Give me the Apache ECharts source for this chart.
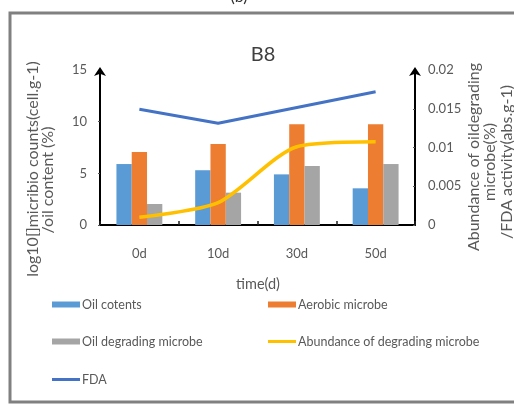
<!DOCTYPE html>
<html>
<head>
<meta charset="utf-8">
<script src="https://cdn.jsdelivr.net/npm/echarts@6/dist/echarts.min.js"></script>
<style>
html,body{margin:0;padding:0;background:#fff;}
#chart{width:514px;height:404px;}
</style>
</head>
<body>
<div id="chart"></div>
<script>
var categories = ['0d', '10d', '30d', '50d'];
var oilContents = [5.9, 5.3, 4.9, 3.55];
var aerobicMicrobe = [7.07, 7.84, 9.75, 9.75];
var oilDegradingMicrobe = [2.03, 3.13, 5.71, 5.9];
var abundanceDegrading = [0.00099, 0.00288, 0.0101, 0.01075];
var fdaActivity = [0.01493, 0.01312, 0.01515, 0.0172];
var leftTicks = [0, 5, 10, 15];
var rightTicks = [0, 0.005, 0.01, 0.015, 0.02];

var FONT = 'Lato, "Open Sans", sans-serif';
var TXT = '#595959';

var chart = echarts.init(document.getElementById('chart'), null, {renderer: 'canvas'});

function legendAt(name, left, top, h) {
  return {
    data: [{name: name, icon: 'rect'}], left: left, top: top, orient: 'horizontal', padding: 0,
    itemWidth: 28, itemHeight: h, itemGap: 3,
    textStyle: {fontFamily: FONT, fontSize: 12.5, color: TXT, padding: [0, 0, 0, -3]},
    selectedMode: false
  };
}

var option = {
  backgroundColor: '#ffffff',
  animation: false,
  textStyle: {fontFamily: FONT},
  grid: {left: 100, right: 99, top: 70, bottom: 179, containLabel: false},
  legend: [
    legendAt('Oil cotents', 52, 298, 6),
    legendAt('Aerobic microbe', 268, 298, 6),
    legendAt('Oil degrading microbe', 52, 335, 6),
    legendAt('Abundance of degrading microbe', 268, 335, 3),
    legendAt('FDA', 52, 373, 3)
  ],
  xAxis: {
    type: 'category',
    data: categories,
    axisLine: {show: true, lineStyle: {color: '#000', width: 2}},
    axisTick: {show: true, inside: true, length: 4, lineStyle: {color: '#222', width: 1.5}},
    axisLabel: {color: TXT, fontSize: 13, fontFamily: FONT, margin: 22},
    splitLine: {show: false}
  },
  yAxis: [
    {
      type: 'value', min: 0, max: 15, interval: 5, position: 'left',
      axisLine: {show: true, symbol: ['none', 'arrow'], symbolSize: [9, 9], symbolOffset: [0, 3],
        lineStyle: {color: '#000', width: 2}},
      axisTick: {show: true, length: 2, lineStyle: {color: '#555'}},
      axisLabel: {color: TXT, fontSize: 13, fontFamily: FONT, margin: 13,
        formatter: function (v) { return leftTicks.indexOf(v) >= 0 ? String(v) : ''; }},
      splitLine: {show: false}
    },
    {
      type: 'value', min: 0, max: 0.02, interval: 0.005, position: 'right',
      axisLine: {show: true, symbol: ['none', 'arrow'], symbolSize: [9, 9], symbolOffset: [0, 3],
        lineStyle: {color: '#000', width: 2}},
      axisTick: {show: true, inside: true, length: 2, lineStyle: {color: '#555'}},
      axisLabel: {color: TXT, fontSize: 13, fontFamily: FONT, margin: 13,
        formatter: function (v) {
          for (var i = 0; i < rightTicks.length; i++) {
            if (Math.abs(rightTicks[i] - v) < 1e-9) return String(rightTicks[i]);
          }
          return '';
        }},
      splitLine: {show: false}
    }
  ],
  series: [
    {name: 'Oil cotents', type: 'bar', yAxisIndex: 0, data: oilContents,
      barWidth: 15.3, barGap: '0%', itemStyle: {color: '#5B9BD5'}},
    {name: 'Aerobic microbe', type: 'bar', yAxisIndex: 0, data: aerobicMicrobe,
      barWidth: 15.3, barGap: '0%', itemStyle: {color: '#ED7D31'}},
    {name: 'Oil degrading microbe', type: 'bar', yAxisIndex: 0, data: oilDegradingMicrobe,
      barWidth: 15.3, barGap: '0%', itemStyle: {color: '#A5A5A5'}},
    {name: 'Abundance of degrading microbe', type: 'line', yAxisIndex: 1, data: abundanceDegrading,
      smooth: 0.25, symbol: 'none', showSymbol: false,
      itemStyle: {color: '#FFC000'}, lineStyle: {color: '#FFC000', width: 3.5}, z: 3},
    {name: 'FDA', type: 'line', yAxisIndex: 1, data: fdaActivity,
      symbol: 'none', showSymbol: false,
      itemStyle: {color: '#4472C4'}, lineStyle: {color: '#4472C4', width: 3}, z: 3}
  ],
  graphic: [
    {type: 'rect', shape: {x: 10, y: 13, width: 600, height: 389},
      style: {fill: 'none', stroke: '#808080', lineWidth: 3}, silent: true, z: 0},
    {type: 'text', x: 239, y: 5, silent: true,
      style: {text: '(b)', fontSize: 16, fontFamily: FONT, fill: '#333', textAlign: 'center', textVerticalAlign: 'bottom'}},
    {type: 'text', x: 263, y: 55, silent: true,
      style: {text: 'B8', fontSize: 20, fontFamily: FONT, fill: '#404040', textAlign: 'center', textVerticalAlign: 'middle'}},
    {type: 'text', x: 258, y: 284, silent: true,
      style: {text: 'time(d)', fontSize: 14.5, fontFamily: FONT, fill: TXT, textAlign: 'center', textVerticalAlign: 'middle'}},
    {type: 'text', x: 33, y: 169, rotation: Math.PI / 2, silent: true,
      style: {text: 'log10[]micribio counts(cell.g-1)', fontSize: 16, fontFamily: FONT, fill: TXT, textAlign: 'center', textVerticalAlign: 'middle'}},
    {type: 'text', x: 48, y: 180, rotation: Math.PI / 2, silent: true,
      style: {text: '/oil content (%)', fontSize: 16, fontFamily: FONT, fill: TXT, textAlign: 'center', textVerticalAlign: 'middle'}},
    {type: 'text', x: 474, y: 157, rotation: Math.PI / 2, silent: true,
      style: {text: 'Abundance of oildegrading', fontSize: 16, fontFamily: FONT, fill: TXT, textAlign: 'center', textVerticalAlign: 'middle'}},
    {type: 'text', x: 490, y: 162, rotation: Math.PI / 2, silent: true,
      style: {text: 'microbe(%)', fontSize: 16, fontFamily: FONT, fill: TXT, textAlign: 'center', textVerticalAlign: 'middle'}},
    {type: 'text', x: 507, y: 162, rotation: Math.PI / 2, silent: true,
      style: {text: '/FDA activity(abs.g-1)', fontSize: 16, fontFamily: FONT, fill: TXT, textAlign: 'center', textVerticalAlign: 'middle'}}
  ]
};
chart.setOption(option);
</script>
</body>
</html>
